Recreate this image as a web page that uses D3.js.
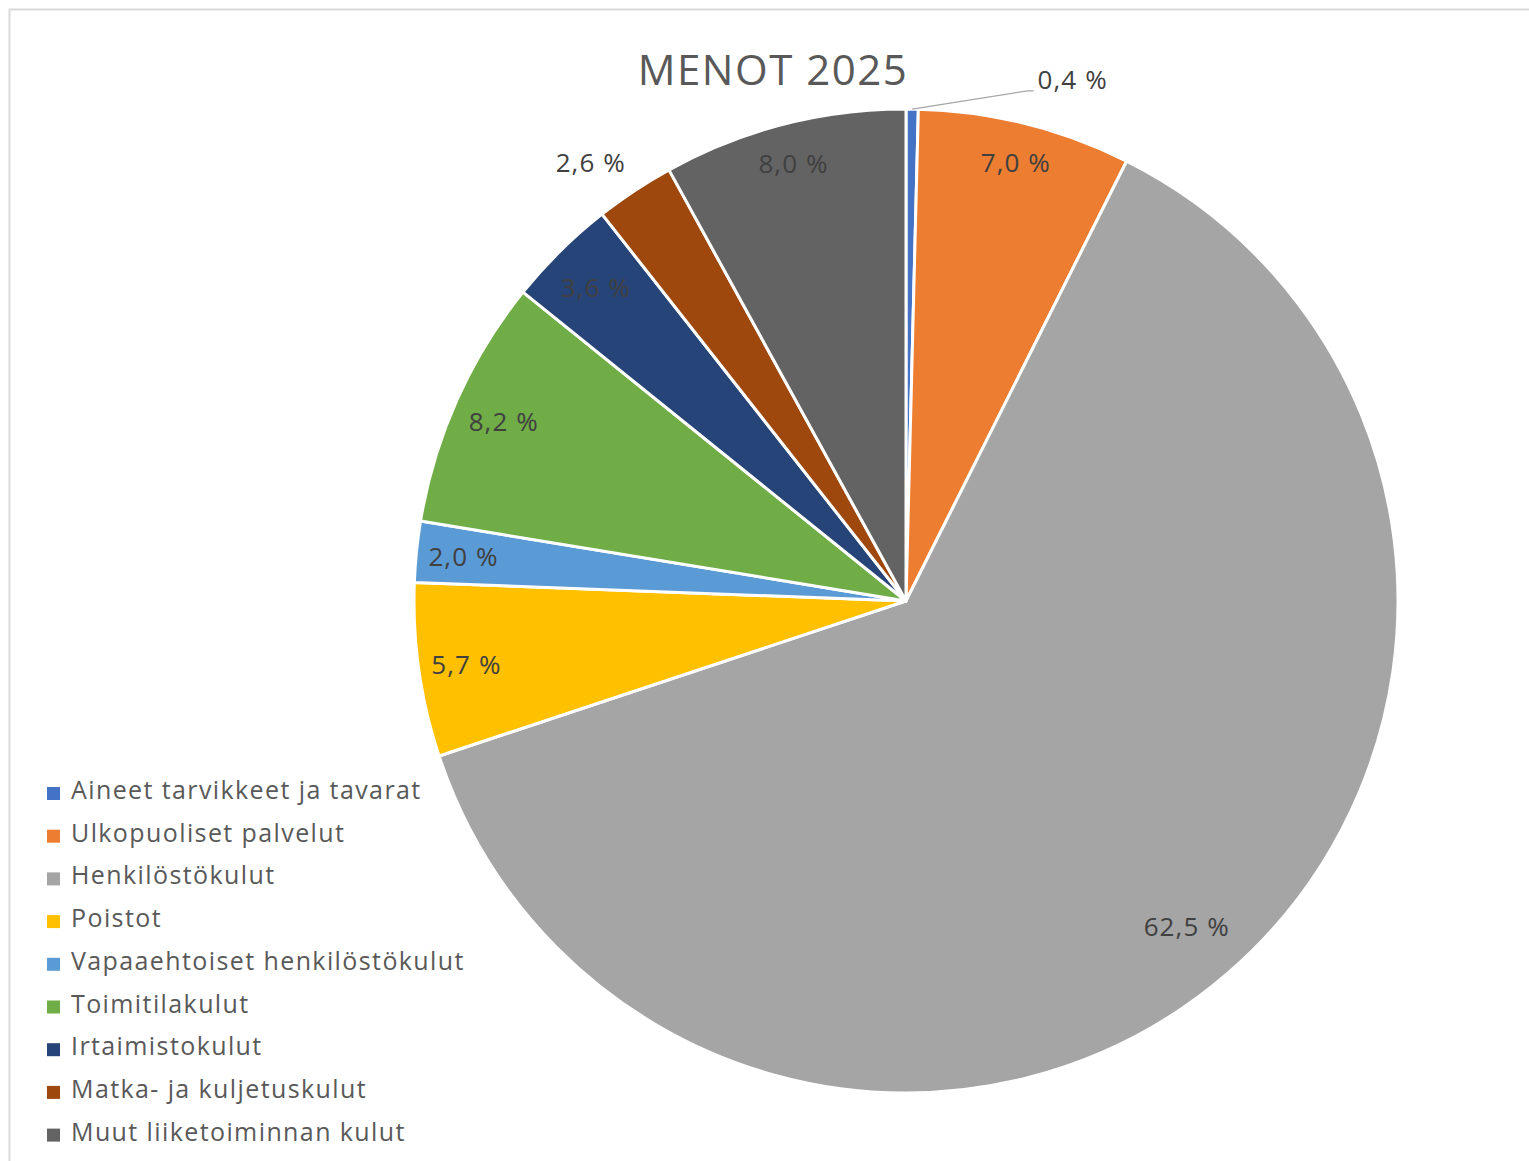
<!DOCTYPE html>
<html>
<head>
<meta charset="utf-8">
<script src="https://cdn.jsdelivr.net/npm/d3@7"></script>
<style>
  body { margin: 0; background: #fff; }
  svg text { font-family: "Open Sans", "Noto Sans", sans-serif; }
</style>
</head>
<body>
<div id="chart"></div>
<script>
// chart data
const categories = [
    "Aineet tarvikkeet ja tavarat",
    "Ulkopuoliset palvelut",
    "Henkilöstökulut",
    "Poistot",
    "Vapaaehtoiset henkilöstökulut",
    "Toimitilakulut",
    "Irtaimistokulut",
    "Matka- ja kuljetuskulut",
    "Muut liiketoiminnan kulut"
];
const shares = [0.4, 7.0, 62.5, 5.7, 2.0, 8.2, 3.6, 2.6, 8.0];
const colors = ["#4472C4", "#ED7D31", "#A5A5A5", "#FFC000", "#5B9BD5", "#70AD47", "#264478", "#9E480E", "#636363"];
const title = "MENOT 2025";

const width = 1529, height = 1161;
const cx = 906, cy = 601, R = 492;

// labels that Excel put outside the pie (angle in degrees, radius factor)
const outside = {
    "Aineet tarvikkeet ja tavarat": {angle: 17.7, r: 1.114, leader: true},
    "Matka- ja kuljetuskulut": {angle: 324.3, r: 1.098, leader: false}
};

const data = categories.map((c, i) => ({name: c, value: shares[i], color: colors[i]}));
const fmt = v => d3.format(".1f")(v).replace(".", ",") + " %";

const svg = d3.select("#chart")
    .append("svg")
    .attr("width", width)
    .attr("height", height);

// chart border
svg.append("rect")
    .attr("x", 9.5).attr("y", 9.5)
    .attr("width", width + 20).attr("height", height + 20)
    .attr("fill", "#fff")
    .attr("stroke", "#d9d9d9")
    .attr("stroke-width", 2);

svg.append("text")
    .attr("x", 773)
    .attr("y", 85)
    .attr("text-anchor", "middle")
    .attr("font-size", 42)
    .attr("letter-spacing", 1.5)
    .attr("fill", "#595959")
    .text(title);

const pie = d3.pie().sort(null).value(d => d.value);
const arc = d3.arc().innerRadius(0).outerRadius(R);
const arcs = pie(data);

const g = svg.append("g").attr("transform", `translate(${cx},${cy})`);

g.selectAll("path.slice")
    .data(arcs)
    .enter().append("path")
    .attr("class", "slice")
    .attr("d", arc)
    .attr("fill", d => d.data.color)
    .attr("stroke", "#fff")
    .attr("stroke-width", 3)
    .attr("stroke-linejoin", "round");

const polar = (a, r) => [r * Math.sin(a), -r * Math.cos(a)];

arcs.forEach(d => {
    const mid = (d.startAngle + d.endAngle) / 2;
    const o = outside[d.data.name];
    const t = g.append("text")
        .attr("text-anchor", "middle")
        .attr("dominant-baseline", "central")
        .attr("font-size", 26)
        .attr("letter-spacing", 1.1)
        .attr("fill", "#404040")
        .text(fmt(d.data.value));
    const w = t.node().getComputedTextLength();
    let p;
    if (o) {
        p = polar(o.angle * Math.PI / 180, o.r * R);
    } else {
        // fit the label box just inside the rim (best fit)
        const hw = w / 2 + 2, hh = 23;
        const ext = hw * Math.abs(Math.sin(mid)) + hh * Math.abs(Math.cos(mid));
        p = polar(mid, R - 8 - ext - (d.data.value > 50 ? 8 : 0));
    }
    t.attr("x", p[0]).attr("y", p[1]);
    if (o && o.leader) {
        const start = polar(mid, R);
        const end = [p[0] - w / 2 - 4, p[1] + 12];
        g.append("polyline")
            .attr("points", [start, [end[0] - 6, end[1]], end].map(q => q.join(",")).join(" "))
            .attr("fill", "none")
            .attr("stroke", "#a6a6a6")
            .attr("stroke-width", 1.2);
    }
});

// legend
const legend = svg.append("g").attr("transform", "translate(47,789)");
const rows = legend.selectAll("g")
    .data(data)
    .enter().append("g")
    .attr("transform", (d, i) => `translate(0,${i * 42.7})`);

rows.append("rect")
    .attr("x", 0).attr("y", -2)
    .attr("width", 13).attr("height", 13)
    .attr("fill", d => d.color);

rows.append("text")
    .attr("x", 24)
    .attr("y", 0)
    .attr("dominant-baseline", "central")
    .attr("font-size", 25)
    .attr("letter-spacing", 1.4)
    .attr("fill", "#595959")
    .text(d => d.name);
</script>
</body>
</html>
